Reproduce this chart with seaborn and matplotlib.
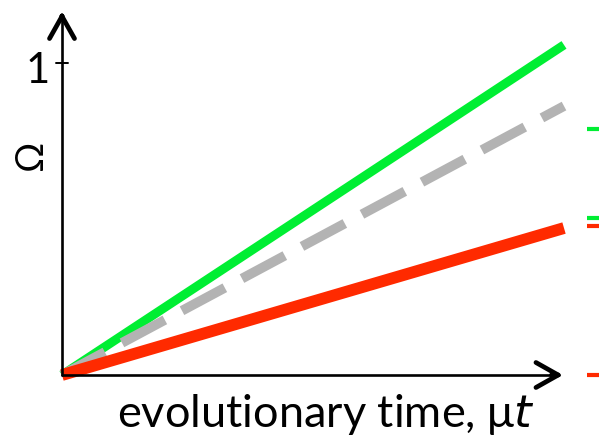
import numpy as np
import pandas as pd
import seaborn as sns
import matplotlib
matplotlib.use("Agg")
import matplotlib.pyplot as plt

# values
time = [0.0, 1.0]
omega_green = [0.0, 1.058]
omega_gray = [0.0, 0.862]
omega_red = [0.0, 0.471]
marker_green = [0.788, 0.503]
marker_red = [0.478, 0.0]

GREEN = "#00ee33"
RED = "#ff2a00"
GRAY = "#b3b3b3"

sns.set_style("white")
plt.rcParams['font.family'] = ['Lato', 'DejaVu Sans']
plt.rcParams['text.color'] = 'black'

fig = plt.figure(figsize=(5.99, 4.41), dpi=100)
W, H = 599, 441
x0, x1, y0, y1 = 62, 564, 375, 63
ax = fig.add_axes([x0 / W, 1 - y0 / H, (x1 - x0) / W, (y0 - y1) / H])

df = pd.DataFrame({"t": time * 3,
                   "omega": omega_green + omega_gray + omega_red,
                   "kind": ["green"] * 2 + ["gray"] * 2 + ["red"] * 2})

sns.lineplot(data=df[df.kind == "green"], x="t", y="omega", color=GREEN,
             lw=6.5, ax=ax, solid_capstyle="butt")
sns.lineplot(data=df[df.kind == "gray"], x="t", y="omega", color=GRAY,
             lw=7, ax=ax, dashes=False, linestyle=(0, (5, 2)),
             dash_capstyle="butt")
sns.lineplot(data=df[df.kind == "red"], x="t", y="omega", color=RED,
             lw=8.5, ax=ax, solid_capstyle="butt")
for l in ax.lines:
    l.set_clip_on(False)

ax.set_xlim(0, 1)
ax.set_ylim(0, 1)
for s in ax.spines.values():
    s.set_visible(False)
ax.set_xticks([])
ax.set_yticks([])
ax.set_xlabel("")
ax.set_ylabel("")

# axes with open arrow heads
ax.plot([0, 0], [0, 1.15], color="black", lw=1.9, clip_on=False)
ax.plot([0, 0.99], [0, 0], color="black", lw=1.9, clip_on=False)
arrow = dict(arrowstyle="->,head_length=0.8,head_width=0.45", lw=3.4,
             color="black", mutation_scale=20, shrinkA=0, shrinkB=0)
ax.annotate("", xy=(0, 1.165), xytext=(0, 1.14), arrowprops=arrow,
            annotation_clip=False)
ax.annotate("", xy=(0.998, 0), xytext=(0.975, 0), arrowprops=arrow,
            annotation_clip=False)

# tick at 1
ax.plot([-0.012, 0.012], [1, 1], color="black", lw=1.4, clip_on=False)
ax.text(-0.025, 0.975, "1", ha="right", va="center", fontsize=30,
        color="black")

ax.text(-0.062, 0.705, "Ω", ha="center", va="center", rotation=90,
        fontsize=27, color="black")
ax.text(0.525, -0.168, "evolutionary time, μ$\\it{t}$", ha="center",
        va="baseline", fontsize=32.5, color="black")

# small markers at right edge
for yv in marker_green:
    ax.plot([1.046, 1.075], [yv, yv], color=GREEN, lw=3, clip_on=False,
            solid_capstyle="butt")
for yv in marker_red:
    ax.plot([1.046, 1.075], [yv, yv], color=RED, lw=3, clip_on=False,
            solid_capstyle="butt")

fig.savefig("out.png", dpi=100)
